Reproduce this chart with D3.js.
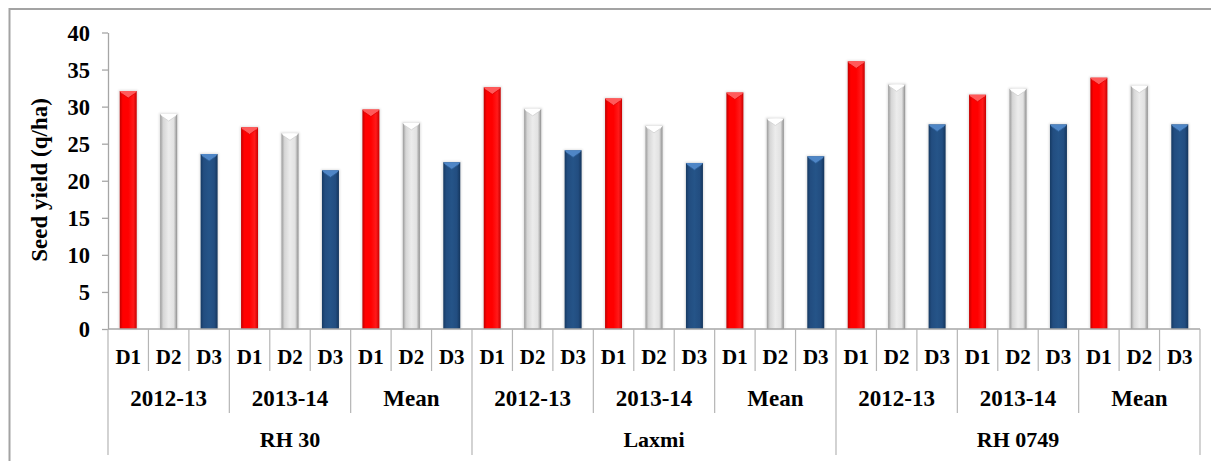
<!DOCTYPE html>
<html>
<head>
<meta charset="utf-8">
<script src="https://cdn.jsdelivr.net/npm/d3@7/dist/d3.min.js"></script>
<style>
  html, body { margin: 0; padding: 0; background: #fff; }
  svg { display: block; }
</style>
</head>
<body>
<svg id="chart" width="1211" height="461"></svg>
<script>
// Seed yield (q/ha) by variety, season and sowing date
const varieties = ["RH 30", "Laxmi", "RH 0749"];
const seasons = ["2012-13", "2013-14", "Mean"];
const sowingDates = ["D1", "D2", "D3"];
// values per variety in order: 2012-13 D1..D3, 2013-14 D1..D3, Mean D1..D3
const rh30Yield = [32.1, 29.0, 23.6, 27.2, 26.4, 21.4, 29.6, 27.8, 22.5];
const laxmiYield = [32.6, 29.7, 24.1, 31.1, 27.4, 22.4, 31.9, 28.4, 23.3];
const rh0749Yield = [36.1, 33.0, 27.6, 31.6, 32.4, 27.6, 33.9, 32.8, 27.6];
const yTicks = [0, 5, 10, 15, 20, 25, 30, 35, 40];

const FONT = "'Liberation Serif', Tinos, 'Times New Roman', Times, serif";

const yieldByVariety = [rh30Yield, laxmiYield, rh0749Yield];
const rows = [];
varieties.forEach((v, vi) => {
  seasons.forEach((s, si) => {
    sowingDates.forEach((d, di) => {
      rows.push({ key: `${vi}-${si}-${di}`, variety: v, season: s, date: d, di,
                  value: yieldByVariety[vi][si * 3 + di] });
    });
  });
});

const svg = d3.select("#chart");
const plotLeft = 108, plotRight = 1200, plotTop = 32.5, plotBottom = 329;

// outer chart frame
svg.append("rect")
  .attr("x", 9.5).attr("y", 9).attr("width", 1400).attr("height", 600)
  .attr("fill", "none").attr("stroke", "#a3a3a3").attr("stroke-width", 2);

const x = d3.scaleBand().domain(rows.map(r => r.key)).range([plotLeft, plotRight])
  .paddingInner(0.58).paddingOuter(0.29);
const y = d3.scaleLinear().domain([0, 40]).range([plotBottom, plotTop]);

// gradients for the cylinder-like bars
const defs = svg.append("defs");
const palettes = [
  { id: "gRed", stops: ["#c00000", "#ff0000", "#ff0000", "#ff1a1a", "#c80000"], cap: "#ff5a5a", capEdge: "#e00000" },
  { id: "gGray", stops: ["#9a9a9a", "#d6d6d6", "#ececec", "#e2e2e2", "#8e8e8e"], cap: "#ffffff", capEdge: "#d0d0d0" },
  { id: "gBlue", stops: ["#163a63", "#224d80", "#255488", "#224d80", "#14355c"], cap: "#4f86c6", capEdge: "#2d5f99" }
];
palettes.forEach(p => {
  const g = defs.append("linearGradient").attr("id", p.id)
    .attr("x1", "0").attr("x2", "1").attr("y1", "0").attr("y2", "0");
  const offs = [0, 0.18, 0.5, 0.8, 1];
  p.stops.forEach((c, i) => g.append("stop").attr("offset", offs[i]).attr("stop-color", c));
});
const shadow = defs.append("filter").attr("id", "soft")
  .attr("x", "-50%").attr("y", "-10%").attr("width", "200%").attr("height", "120%");
shadow.append("feGaussianBlur").attr("stdDeviation", 1.2);

const bars = svg.append("g");
rows.forEach(r => {
  const x0 = x(r.key), w = x.bandwidth(), yTop = y(r.value), h = plotBottom - yTop;
  const p = palettes[r.di];
  bars.append("rect").attr("x", x0 - 1).attr("y", yTop - 1).attr("width", w + 2).attr("height", h + 1)
    .attr("fill", "#000").attr("opacity", 0.12).attr("filter", "url(#soft)");
  bars.append("rect").attr("x", x0).attr("y", yTop).attr("width", w).attr("height", h)
    .attr("fill", `url(#${p.id})`);
  // bevelled cap
  const cx = x0 + w / 2;
  bars.append("path")
    .attr("d", `M${x0},${yTop}L${x0 + w},${yTop}L${x0 + w - 2},${yTop + 2.5}L${cx},${yTop + 7}L${x0 + 2},${yTop + 2.5}Z`)
    .attr("fill", p.cap);
  bars.append("path")
    .attr("d", `M${x0 + 2},${yTop + 2.5}L${cx},${yTop + 7}L${x0 + w - 2},${yTop + 2.5}`)
    .attr("fill", "none").attr("stroke", p.capEdge).attr("stroke-width", 0.8);
});

function label(sel, size) {
  return sel.attr("font-family", FONT).attr("font-weight", "bold")
    .attr("font-size", size).attr("fill", "#000");
}

// y axis
const yAxis = svg.append("g").attr("transform", `translate(${plotLeft},0)`)
  .call(d3.axisLeft(y).tickValues(yTicks).tickSize(6).tickSizeOuter(0).tickPadding(12));
yAxis.attr("font-family", FONT);
yAxis.select(".domain").attr("stroke", "#a6a6a6").attr("stroke-width", 1.3);
yAxis.selectAll(".tick line").attr("stroke", "#a6a6a6").attr("stroke-width", 1.3);
label(yAxis.selectAll(".tick text"), 22.5).attr("dy", "0.35em");

label(svg.append("text"), 23)
  .attr("transform", "translate(47,180) rotate(-90)")
  .attr("text-anchor", "middle")
  .text("Seed yield (q/ha)");

// multi-level category axis
const axisG = svg.append("g");
axisG.append("line").attr("x1", plotLeft).attr("x2", plotRight).attr("y1", plotBottom).attr("y2", plotBottom)
  .attr("stroke", "#a6a6a6").attr("stroke-width", 1.3);
const step = x.step();
d3.range(rows.length + 1).forEach(i => {
  const xe = plotLeft + i * step;
  const yEnd = i % 9 === 0 ? 455 : (i % 3 === 0 ? 413 : 371);
  axisG.append("line").attr("x1", xe).attr("x2", xe).attr("y1", plotBottom).attr("y2", yEnd)
    .attr("stroke", "#b5b5b5").attr("stroke-width", 1.2);
});
rows.forEach((r, i) => {
  label(axisG.append("text"), 21).attr("x", plotLeft + (i + 0.5) * step).attr("y", 364)
    .attr("text-anchor", "middle").text(r.date);
});
varieties.forEach((v, vi) => {
  seasons.forEach((s, si) => {
    const k = vi * 3 + si;
    label(axisG.append("text"), 23).attr("x", plotLeft + (k * 3 + 1.5) * step).attr("y", 406)
      .attr("text-anchor", "middle").text(s);
  });
  label(axisG.append("text"), 22).attr("x", plotLeft + (vi * 9 + 4.5) * step).attr("y", 447)
    .attr("text-anchor", "middle").text(v);
});
</script>
</body>
</html>
